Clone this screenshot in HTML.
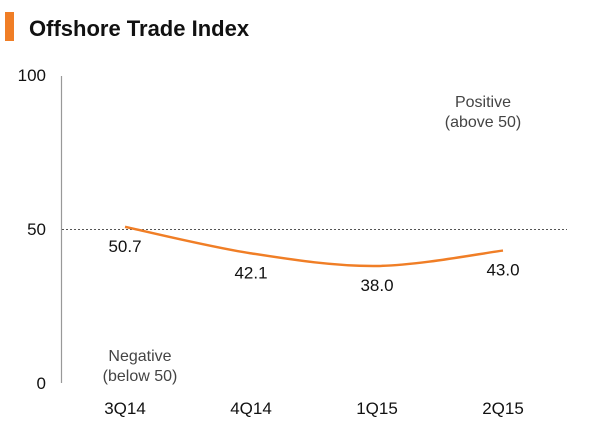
<!DOCTYPE html>
<html><head><meta charset="utf-8"><style>
body{margin:0;background:#fff;font-family:"Liberation Sans",Arial,sans-serif}
svg text{font-family:"Liberation Sans",Arial,sans-serif}
</style></head><body>
<svg width="600" height="428" viewBox="0 0 600 428">
<rect x="5" y="12" width="9" height="29" fill="#f07e26"/>
<text x="29" y="36" font-size="22" font-weight="bold" fill="#111">Offshore Trade Index</text>
<line x1="61.5" y1="76" x2="61.5" y2="383" stroke="#999" stroke-width="1.2"/>
<g id="yticks"></g>
<line x1="62" y1="229.5" x2="567" y2="229.5" stroke="#555" stroke-dasharray="2,2"/>
<text x="483" y="107" font-size="16" fill="#444" text-anchor="middle">Positive</text>
<text x="483" y="127" font-size="16" fill="#444" text-anchor="middle">(above 50)</text>
<text x="140" y="361" font-size="16" fill="#444" text-anchor="middle">Negative</text>
<text x="140" y="381" font-size="16" fill="#444" text-anchor="middle">(below 50)</text>
<g id="plot"></g>
</svg>
<script>
const categories=["3Q14","4Q14","1Q15","2Q15"];
const values=[50.7,42.1,38.0,43.0];
const valueLabels=["50.7","42.1","38.0","43.0"];
const yTicks=[0,50,100];
const NS="http://www.w3.org/2000/svg";
const yS=v=>383-3.08*v;
const xS=i=>125+i*126;
function mk(t,a,p){const e=document.createElementNS(NS,t);for(const k in a)e.setAttribute(k,a[k]);p.appendChild(e);return e;}
const yt=document.getElementById('yticks');
yTicks.forEach(v=>{const t=mk('text',{x:46,y:yS(v)+6,'font-size':17,'text-anchor':'end',fill:'#111'},yt);t.textContent=v;

});
const g=document.getElementById('plot');
const pts=values.map((v,i)=>[xS(i),yS(v)]);
let d="M"+pts[0][0]+","+pts[0][1];
for(let i=0;i<pts.length-1;i++){const p0=pts[i-1]||pts[i],p1=pts[i],p2=pts[i+1],p3=pts[i+2]||p2;
const c1x=p1[0]+(p2[0]-p0[0])/6,c1y=p1[1]+(p2[1]-p0[1])/6,c2x=p2[0]-(p3[0]-p1[0])/6,c2y=p2[1]-(p3[1]-p1[1])/6;
d+=` C${c1x},${c1y} ${c2x},${c2y} ${p2[0]},${p2[1]}`;}
const path=mk('path',{d:d,fill:'none',stroke:'#f07e26','stroke-width':2.5},g);


values.forEach((v,i)=>{const t=mk('text',{x:xS(i),y:yS(v)+25,'font-size':17,'text-anchor':'middle',fill:'#111'},g);t.textContent=valueLabels[i];

});
categories.forEach((c,i)=>{const t=mk('text',{x:xS(i),y:414,'font-size':17,'text-anchor':'middle',fill:'#111'},g);t.textContent=c;

});
</script>
</body></html>
